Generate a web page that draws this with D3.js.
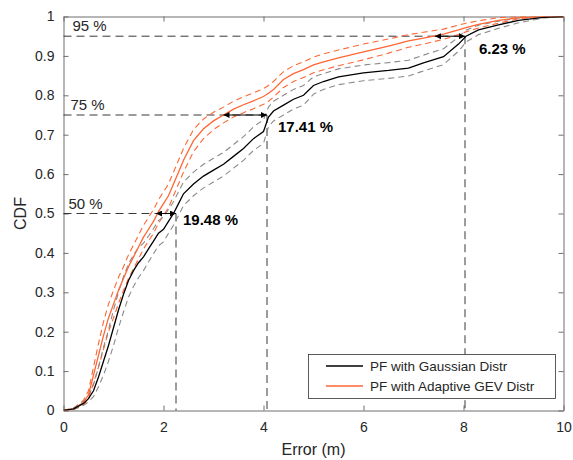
<!DOCTYPE html>
<html>
<head>
<meta charset="utf-8">
<script src="https://cdn.jsdelivr.net/npm/d3@7"></script>
<style>
  html, body { margin: 0; padding: 0; background: #fff; }
  svg { display: block; font-family: "Liberation Sans", Arial, Helvetica, sans-serif; }
</style>
</head>
<body>
<svg id="chart" width="573" height="460"></svg>
<script>
// ---------------- DATA ----------------
const errX = [0, 0.2, 0.4, 0.5, 0.6, 0.7, 0.8, 0.9, 1.0, 1.1, 1.2, 1.3, 1.4, 1.5, 1.6, 1.7, 1.8, 1.9, 2.0, 2.1, 2.2, 2.3, 2.4, 2.6, 2.8, 3.0, 3.2, 3.4, 3.6, 3.8, 4.0, 4.1, 4.2, 4.4, 4.6, 4.8, 5.0, 5.2, 5.5, 6.0, 6.5, 6.9, 7.2, 7.6, 7.9, 8.05, 8.3, 8.7, 9.1, 9.6, 10];

const gaussMean = [0, 0.004, 0.018, 0.03, 0.05, 0.085, 0.125, 0.165, 0.21, 0.255, 0.295, 0.33, 0.355, 0.375, 0.39, 0.41, 0.43, 0.45, 0.46, 0.48, 0.5, 0.525, 0.55, 0.575, 0.595, 0.61, 0.625, 0.645, 0.665, 0.69, 0.708, 0.745, 0.76, 0.775, 0.79, 0.80, 0.825, 0.835, 0.847, 0.857, 0.863, 0.869, 0.882, 0.898, 0.93, 0.95, 0.966, 0.979, 0.99, 0.998, 1];
const gaussHi = [0, 0.006, 0.023, 0.038, 0.065, 0.11, 0.16, 0.205, 0.255, 0.3, 0.34, 0.372, 0.395, 0.413, 0.425, 0.443, 0.462, 0.482, 0.492, 0.51, 0.53, 0.555, 0.58, 0.605, 0.625, 0.64, 0.655, 0.675, 0.695, 0.72, 0.738, 0.77, 0.785, 0.8, 0.815, 0.825, 0.847, 0.855, 0.867, 0.877, 0.883, 0.889, 0.902, 0.918, 0.948, 0.965, 0.978, 0.988, 0.996, 1.0, 1];
const gaussLo = [0, 0.002, 0.013, 0.022, 0.035, 0.06, 0.09, 0.125, 0.165, 0.21, 0.25, 0.288, 0.315, 0.337, 0.355, 0.377, 0.398, 0.418, 0.428, 0.45, 0.47, 0.495, 0.52, 0.545, 0.565, 0.58, 0.595, 0.615, 0.635, 0.66, 0.678, 0.72, 0.735, 0.75, 0.765, 0.775, 0.803, 0.815, 0.827, 0.837, 0.843, 0.849, 0.862, 0.878, 0.912, 0.935, 0.954, 0.97, 0.984, 0.996, 1];

const gevMean = [0, 0.004, 0.02, 0.04, 0.09, 0.14, 0.19, 0.235, 0.27, 0.305, 0.335, 0.365, 0.39, 0.415, 0.44, 0.46, 0.48, 0.505, 0.525, 0.545, 0.575, 0.605, 0.635, 0.685, 0.715, 0.735, 0.75, 0.765, 0.776, 0.786, 0.797, 0.805, 0.815, 0.84, 0.855, 0.865, 0.877, 0.885, 0.895, 0.91, 0.925, 0.938, 0.945, 0.955, 0.966, 0.972, 0.98, 0.99, 0.997, 1, 1];
const gevHi = [0, 0.006, 0.026, 0.05, 0.11, 0.17, 0.225, 0.27, 0.305, 0.338, 0.365, 0.395, 0.42, 0.445, 0.47, 0.49, 0.51, 0.535, 0.555, 0.575, 0.605, 0.635, 0.665, 0.713, 0.74, 0.757, 0.77, 0.785, 0.796, 0.806, 0.817, 0.825, 0.835, 0.86, 0.875, 0.885, 0.897, 0.905, 0.915, 0.93, 0.943, 0.954, 0.96, 0.968, 0.978, 0.983, 0.989, 0.997, 1.0, 1, 1];
const gevLo = [0, 0.002, 0.014, 0.03, 0.07, 0.11, 0.155, 0.2, 0.235, 0.272, 0.305, 0.335, 0.36, 0.385, 0.41, 0.43, 0.45, 0.475, 0.495, 0.515, 0.545, 0.575, 0.605, 0.657, 0.69, 0.713, 0.73, 0.745, 0.756, 0.766, 0.777, 0.785, 0.795, 0.82, 0.835, 0.845, 0.857, 0.865, 0.875, 0.89, 0.907, 0.922, 0.93, 0.942, 0.954, 0.961, 0.971, 0.983, 0.994, 1, 1];

const seriesNames = ["PF with Gaussian Distr", "PF with Adaptive GEV Distr"];

const levels = [0.5, 0.75, 0.95];
const levelLabels = ["50 %", "75 %", "95 %"];
const gaussAtLevel = [2.25, 4.07, 8.03];
const gevAtLevel = [1.85, 3.2, 7.43];
const gainLabels = ["19.48 %", "17.41 %", "6.23 %"];

const xTicks = [0, 2, 4, 6, 8, 10];
const yTicks = [0, 0.1, 0.2, 0.3, 0.4, 0.5, 0.6, 0.7, 0.8, 0.9, 1];

// ---------------- LAYOUT ----------------
const svg = d3.select("#chart");
const L = 63.5, R = 563.5, T = 16.5, B = 410.5;
const x = d3.scaleLinear().domain([0, 10]).range([L, R]);
const y = d3.scaleLinear().domain([0, 1]).range([B, T]);

const axisColor = "#6e6e6e";
const textColor = "#262626";
const orange = "#ff6633";
const grayDash = "#8a8a8a";

svg.append("defs").append("clipPath").attr("id", "clip")
  .append("rect").attr("x", L).attr("y", T).attr("width", R - L).attr("height", B - T);

// axes (bottom/left with labels, top/right mirrored, ticks inward)
const fmtY = d => d === 0 ? "0" : (d === 1 ? "1" : d3.format(".1f")(d));
function styleAxis(g) {
  g.select(".domain").attr("stroke", axisColor);
  g.selectAll(".tick line").attr("stroke", axisColor);
  g.selectAll(".tick text").attr("fill", textColor).style("font-size", "14px")
   .style("font-family", "'Liberation Sans', Arial, sans-serif");
}
svg.append("g").attr("transform", `translate(0,${B})`)
  .call(d3.axisBottom(x).tickValues(xTicks).tickSize(-5).tickPadding(12).tickSizeOuter(0))
  .call(styleAxis);
svg.append("g").attr("transform", `translate(0,${T})`)
  .call(d3.axisTop(x).tickValues(xTicks).tickSize(-5).tickFormat("").tickSizeOuter(0))
  .call(styleAxis);
svg.append("g").attr("transform", `translate(${L},0)`)
  .call(d3.axisLeft(y).tickValues(yTicks).tickFormat(fmtY).tickSize(-5).tickPadding(9).tickSizeOuter(0))
  .call(styleAxis);
svg.append("g").attr("transform", `translate(${R},0)`)
  .call(d3.axisRight(y).tickValues(yTicks).tickFormat("").tickSize(-5).tickSizeOuter(0))
  .call(styleAxis);

// axis labels
svg.append("text").attr("x", (L + R) / 2).attr("y", 455).attr("text-anchor", "middle")
  .attr("fill", textColor).style("font-size", "16px").text("Error (m)");
svg.append("text").attr("transform", `translate(26,${(T + B) / 2}) rotate(-90)`)
  .attr("text-anchor", "middle").attr("fill", textColor).style("font-size", "16px").text("CDF");

// annotation guide lines
const ann = svg.append("g");
levels.forEach((lv, i) => {
  ann.append("line").attr("x1", x(0)).attr("x2", x(gaussAtLevel[i]))
    .attr("y1", y(lv)).attr("y2", y(lv))
    .attr("stroke", "#222").attr("stroke-width", 0.9).attr("stroke-dasharray", "8,5");
  ann.append("line").attr("x1", x(gaussAtLevel[i])).attr("x2", x(gaussAtLevel[i]))
    .attr("y1", y(lv)).attr("y2", y(0))
    .attr("stroke", "#222").attr("stroke-width", 0.9).attr("stroke-dasharray", "8,5");
  ann.append("text").attr("x", x(0) + 5 + i * 2).attr("y", y(lv) - 5)
    .attr("fill", textColor).style("font-size", "15px").text(levelLabels[i]);
});

// curves
const line = d3.line().x((d, i) => x(errX[i])).y(d => y(d));
const curves = svg.append("g").attr("clip-path", "url(#clip)");
[[gevHi, orange, "6,4", 1.1], [gevLo, orange, "6,4", 1.1],
 [gaussHi, grayDash, "6,4", 1.1], [gaussLo, grayDash, "6,4", 1.1],
 [gevMean, orange, null, 1.3], [gaussMean, "#000", null, 1.3]].forEach(([arr, col, dash, w]) => {
  curves.append("path").datum(arr).attr("d", line)
    .attr("fill", "none").attr("stroke", col).attr("stroke-width", w)
    .attr("stroke-dasharray", dash);
});

// arrows
const defs = svg.select("defs");
defs.append("marker").attr("id", "ahEnd").attr("viewBox", "0 0 10 10")
  .attr("refX", 10).attr("refY", 5).attr("markerWidth", 10).attr("markerHeight", 6)
  .attr("markerUnits", "userSpaceOnUse").attr("orient", "auto")
  .append("path").attr("d", "M0,0 L10,5 L0,10 Z").attr("fill", "#000");
defs.append("marker").attr("id", "ahStart").attr("viewBox", "0 0 10 10")
  .attr("refX", 0).attr("refY", 5).attr("markerWidth", 10).attr("markerHeight", 6)
  .attr("markerUnits", "userSpaceOnUse").attr("orient", "auto")
  .append("path").attr("d", "M10,0 L0,5 L10,10 Z").attr("fill", "#000");

const gainDy = [11, 17, 18];
const gainDx = [7, 11, 14];
levels.forEach((lv, i) => {
  svg.append("line").attr("x1", x(gevAtLevel[i])).attr("x2", x(gaussAtLevel[i]))
    .attr("y1", y(lv)).attr("y2", y(lv))
    .attr("stroke", "#000").attr("stroke-width", 1)
    .attr("marker-start", "url(#ahStart)").attr("marker-end", "url(#ahEnd)");
  svg.append("text").attr("x", x(gaussAtLevel[i]) + gainDx[i]).attr("y", y(lv) + gainDy[i])
    .attr("fill", "#000").style("font-size", "15px").style("font-weight", "bold")
    .text(gainLabels[i]);
});

// legend
const lg = svg.append("g");
lg.append("rect").attr("x", 308.5).attr("y", 354.5).attr("width", 247).attr("height", 44)
  .attr("fill", "#fff").attr("stroke", "#333").attr("stroke-width", 0.8);
[["#000", 0], [orange, 1]].forEach(([col, i]) => {
  const yy = 366 + i * 20;
  lg.append("line").attr("x1", 326).attr("x2", 363).attr("y1", yy).attr("y2", yy)
    .attr("stroke", col).attr("stroke-width", 1.3);
  lg.append("text").attr("x", 370).attr("y", yy + 5).attr("fill", textColor)
    .style("font-size", "13.5px").text(seriesNames[i]);
});
</script>
</body>
</html>
